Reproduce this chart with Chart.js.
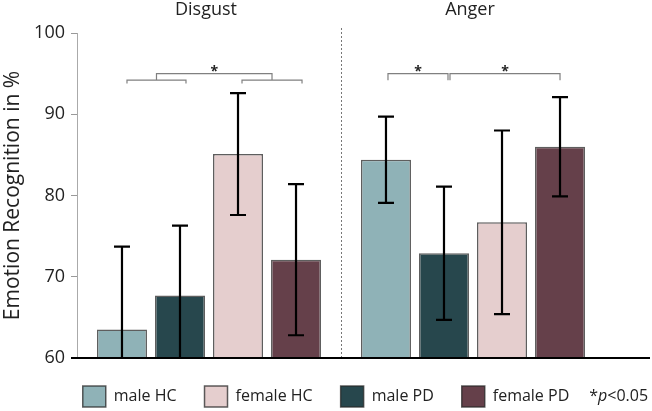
<!DOCTYPE html>
<html>
<head>
<meta charset="utf-8">
<script src="https://cdn.jsdelivr.net/npm/chart.js@4.4.1/dist/chart.umd.min.js"></script>
<style>
  html, body { margin: 0; padding: 0; background: #fff; }
  #wrap { width: 652px; height: 411px; }
</style>
</head>
<body>
<div id="wrap"><canvas id="chart"></canvas></div>
<script>
// data (means and SD per emotion: Disgust, Anger)
const emotions = ['Disgust', 'Anger'];
const groupNames = ['male HC', 'male PD', 'female HC', 'female PD'];
const legendOrder = ['male HC', 'female HC', 'male PD', 'female PD'];
const maleHC = [63.5, 84.4];
const malePD = [67.7, 72.9];
const femaleHC = [85.1, 76.7];
const femalePD = [72.1, 86.0];
const maleHCsd = [10.2, 5.3];
const malePDsd = [8.6, 8.2];
const femaleHCsd = [7.5, 11.3];
const femalePDsd = [9.3, 6.1];
const yTicks = [60, 70, 80, 90, 100];

const means = [maleHC, malePD, femaleHC, femalePD];
const sds = [maleHCsd, malePDsd, femaleHCsd, femalePDsd];
const colors = ['#8fb2b7', '#27474d', '#e5cece', '#65404a'];
const FONT = "'Open Sans', 'DejaVu Sans', sans-serif";

// error bars, significance brackets, separator, baseline, p-note
const extras = {
  id: 'extras',
  afterDatasetsDraw(chart) {
    const { ctx, chartArea: a, scales: { x, y } } = chart;
    const barX = (ds, g) => chart.getDatasetMeta(ds).data[g].x;

    ctx.save();
    ctx.beginPath();
    ctx.rect(a.left, a.top - 40, a.right - a.left, a.bottom - a.top + 40);
    ctx.clip();
    ctx.strokeStyle = '#000';
    ctx.lineWidth = 2.2;
    sds.forEach((sd, i) => sd.forEach((s, g) => {
      const m = means[i][g], cx = barX(i, g);
      const top = y.getPixelForValue(m + s), bot = y.getPixelForValue(m - s);
      ctx.beginPath();
      ctx.moveTo(cx, top); ctx.lineTo(cx, bot);
      ctx.moveTo(cx - 8, top); ctx.lineTo(cx + 8, top);
      ctx.moveTo(cx - 8, bot); ctx.lineTo(cx + 8, bot);
      ctx.stroke();
    }));
    ctx.restore();

    // brackets
    ctx.save();
    ctx.strokeStyle = '#808080';
    ctx.lineWidth = 1.2;
    const bracket = (x1, x2, v, tip) => {
      const yy = y.getPixelForValue(v), yt = y.getPixelForValue(tip);
      ctx.moveTo(x1, yt); ctx.lineTo(x1, yy); ctx.lineTo(x2, yy); ctx.lineTo(x2, yt);
    };
    const stars = [];
    ctx.beginPath();
    const l1 = barX(0, 0) + 5, l2 = barX(1, 0) + 6;
    const r1 = barX(2, 0) + 4, r2 = barX(3, 0) + 6;
    bracket(l1, l2, 94.2, 93.8);
    bracket(r1, r2, 94.2, 93.8);
    bracket((l1 + l2) / 2, (r1 + r2) / 2, 95.0, 94.2);
    stars.push(((l1 + l2) / 2 + (r1 + r2) / 2) / 2);
    const a1 = barX(0, 1) + 2, a2 = barX(1, 1) + 4;
    const b1 = barX(1, 1) + 6, b2 = barX(3, 1);
    bracket(a1, a2, 95.0, 94.2);
    bracket(b1, b2, 95.0, 94.2);
    stars.push((a1 + a2) / 2, (b1 + b2) / 2);
    ctx.stroke();

    ctx.fillStyle = '#222';
    ctx.font = 'bold 14px ' + FONT;
    ctx.textAlign = 'center';
    ctx.textBaseline = 'alphabetic';
    const sy = y.getPixelForValue(95.0) + 2;
    stars.forEach(sx => ctx.fillText('*', sx, sy));

    // dashed separator
    const mid = (x.getPixelForValue(0) + x.getPixelForValue(1)) / 2;
    ctx.strokeStyle = '#777';
    ctx.lineWidth = 1;
    ctx.setLineDash([2, 2]);
    ctx.beginPath();
    ctx.moveTo(Math.round(mid) + 0.5, a.top - 5);
    ctx.lineTo(Math.round(mid) + 0.5, a.bottom);
    ctx.stroke();
    ctx.setLineDash([]);

    // baseline
    ctx.strokeStyle = '#000';
    ctx.lineWidth = 2;
    ctx.beginPath();
    ctx.moveTo(a.left - 6, a.bottom);
    ctx.lineTo(chart.width - 2, a.bottom);
    ctx.stroke();

    // *p<0.05 next to legend
    const boxes = chart.legend.legendHitBoxes;
    const last = boxes[boxes.length - 1];
    let px = last.left + last.width + 20;
    const py = last.top + last.height / 2;
    ctx.textAlign = 'left';
    ctx.textBaseline = 'middle';
    ctx.fillStyle = '#222';
    ctx.font = '16px ' + FONT;
    ctx.fillText('*', px, py); px += ctx.measureText('*').width;
    ctx.font = 'italic 16px ' + FONT;
    ctx.fillText('p', px, py); px += ctx.measureText('p').width;
    ctx.font = '16px ' + FONT;
    ctx.fillText('<0.05', px, py);
    ctx.restore();
  }
};

new Chart(document.getElementById('chart'), {
  type: 'bar',
  data: {
    labels: emotions,
    datasets: groupNames.map((name, i) => ({
      label: name,
      data: means[i],
      backgroundColor: colors[i],
      borderColor: 'rgba(40,40,40,0.75)',
      borderWidth: 1.5,
      categoryPercentage: 0.879,
      barPercentage: 0.862
    }))
  },
  options: {
    responsive: true, maintainAspectRatio: false, animation: false,
    layout: { padding: { left: 0, right: 0, top: 0, bottom: 0 } },
    scales: {
      x: {
        position: 'top',
        ticks: { color: '#222', font: { family: FONT, size: 18 }, padding: 12, labelOffset: -3 },
        grid: { display: false, drawTicks: false },
        border: { display: false },
        afterFit: s => { s.height = 33; }
      },
      y: {
        min: 60, max: 100,
        afterBuildTicks: s => { s.ticks = yTicks.map(v => ({ value: v })); },
        ticks: { color: '#222', font: { family: FONT, size: 18 }, padding: 6 },
        grid: { drawOnChartArea: false, tickLength: 6, color: '#999' },
        border: { color: '#aaa', width: 1 },
        title: { display: true, text: 'Emotion Recognition in %', color: '#222', font: { family: FONT, size: 21 }, padding: 0 },
        afterFit: s => { s.width = 77; }
      },
      yR: {
        position: 'right', min: 60, max: 100,
        ticks: { display: false }, grid: { display: false }, border: { display: false },
        afterFit: s => { s.width = 47; }
      }
    },
    plugins: {
      legend: {
        position: 'bottom', align: 'center', maxHeight: 53,
        labels: {
          boxWidth: 23, boxHeight: 21, padding: 28, color: '#222',
          font: { family: FONT, size: 16 },
          sort: (a, b) => legendOrder.indexOf(a.text) - legendOrder.indexOf(b.text)
        }
      },
      tooltip: { enabled: false }
    }
  },
  plugins: [extras]
});
</script>
</body>
</html>
